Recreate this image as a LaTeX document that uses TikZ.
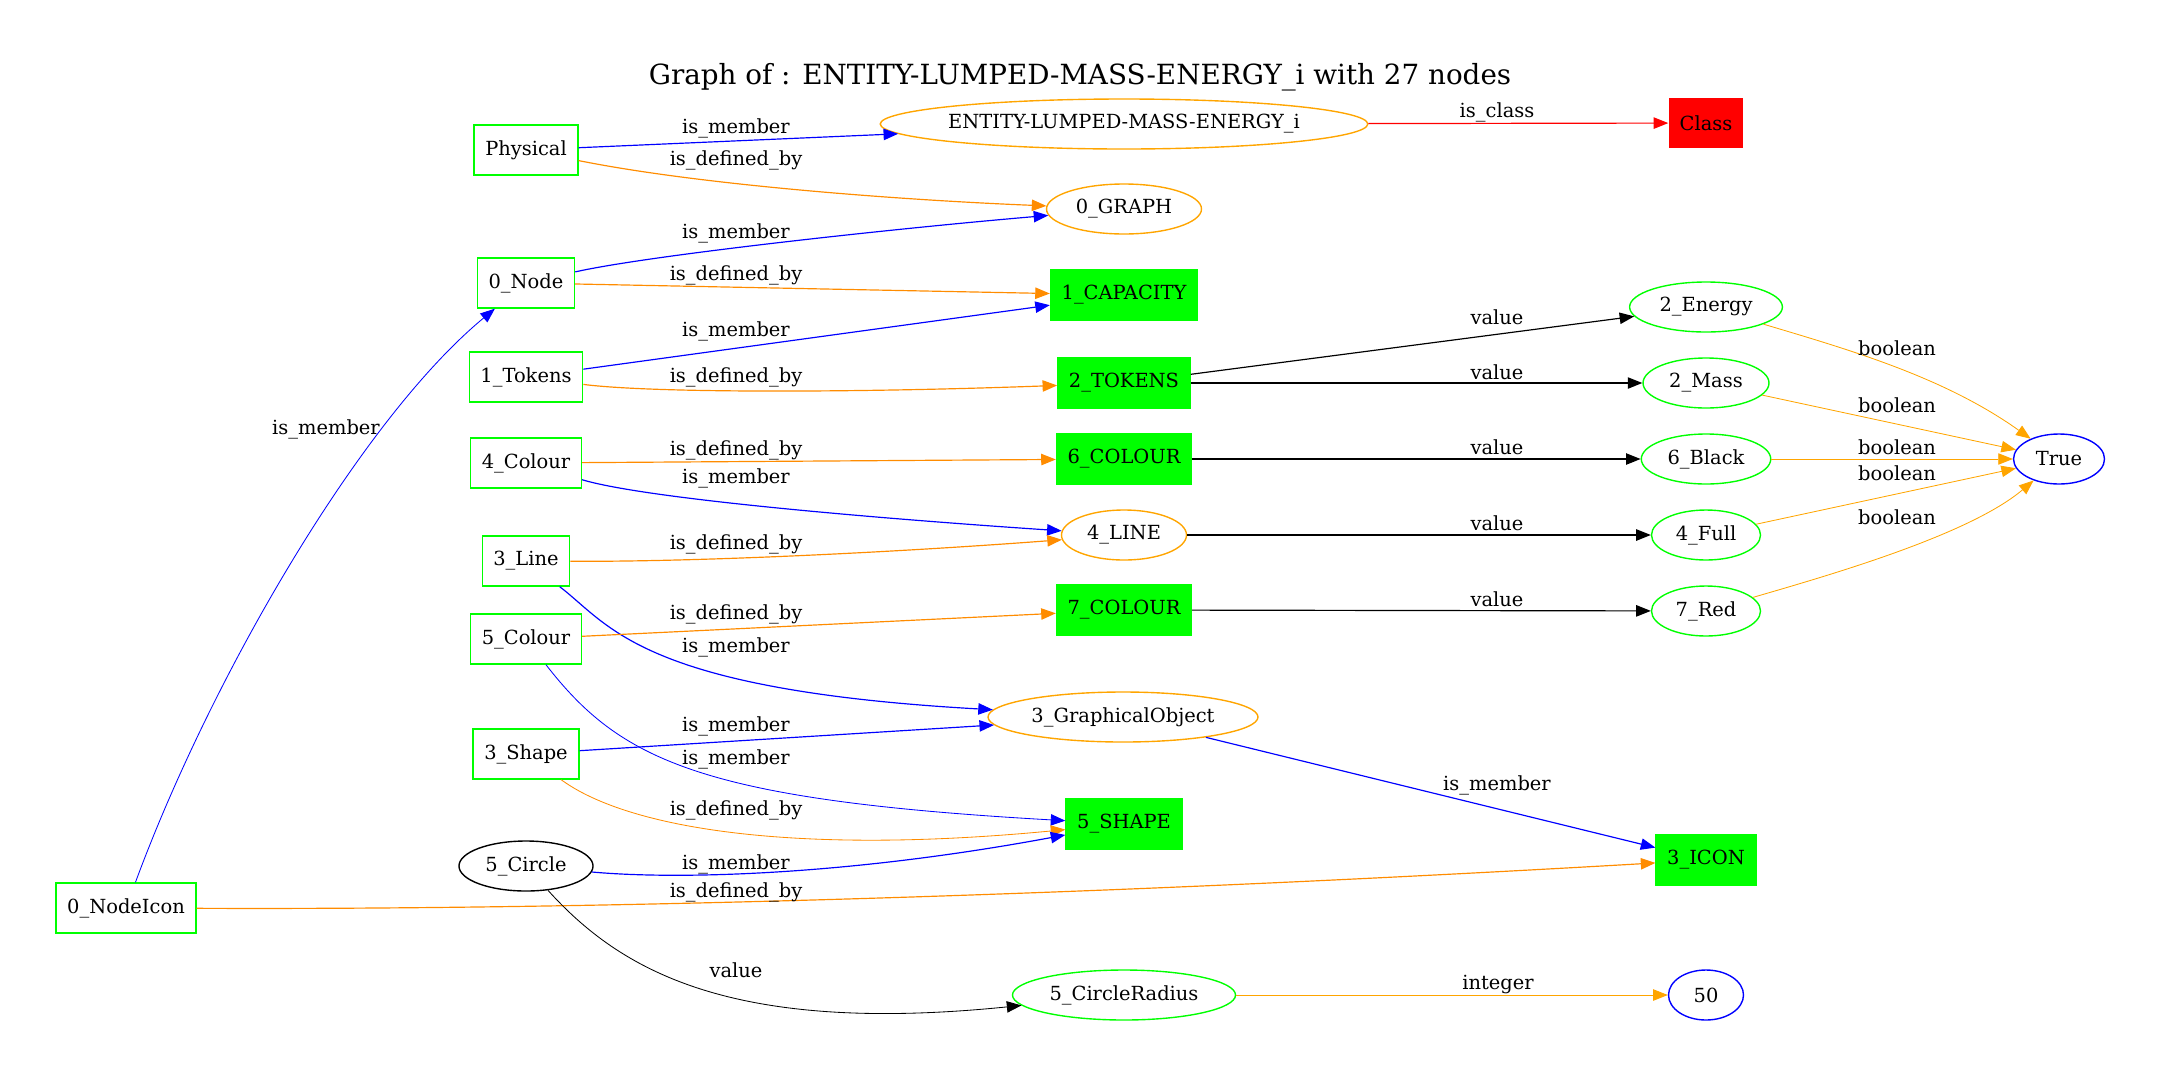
\documentclass[tikz,border=0pt]{standalone}
\usepackage{fontspec}
\setmainfont{DejaVu Serif}
\usepackage{tikz}
\usetikzlibrary{arrows.meta,shapes}

\definecolor{gvgreen}{HTML}{00FF00}
\definecolor{gvorange}{HTML}{FFA500}
\definecolor{gvdarkorange}{HTML}{FF8C00}
\definecolor{gvblue}{HTML}{0000FF}
\definecolor{gvred}{HTML}{FF0000}

\tikzset{
  every node/.style={font=\fontsize{14}{16}\selectfont},
  gbox/.style={rectangle, draw=gvgreen, line width=1pt, inner xsep=8pt, inner ysep=0pt, minimum height=36pt},
  fgbox/.style={gbox, fill=gvgreen},
  clsbox/.style={rectangle, fill=gvred, inner xsep=8pt, inner ysep=0pt, minimum height=36pt},
  oval/.style={ellipse, line width=1pt, inner xsep=-8pt, inner ysep=0pt, minimum height=36pt},
  ooval/.style={oval, draw=gvorange},
  goval/.style={oval, draw=gvgreen},
  boval/.style={oval, draw=gvblue},
  koval/.style={oval, draw=black},
  lbl/.style={inner sep=0pt},
  gvarrow/.style={line width=0.85pt, -{Triangle[length=10.5pt,width=8.2pt]}},
  thinline/.style={line width=0.6pt},
  member/.style={gvarrow, draw=gvblue},
  definedby/.style={gvarrow, draw=gvdarkorange},
  valuearr/.style={gvarrow, draw=black},
  classarr/.style={gvarrow, draw=gvred},
  boolarr/.style={gvarrow, thinline, draw=gvorange},
}

\begin{document}
\begin{tikzpicture}[x=0.72pt, y=-0.72pt]
\useasboundingbox (0,0) rectangle (2160,1076);

% Title
\node[font=\fontsize{20}{24}\selectfont, anchor=base] (title) at (1080,84)
  {Graph of : ENTITY-LUMPED-MASS-ENERGY\_i with 27 nodes};

% Sources
\node[gbox] (nodeicon0) at (126,908) {0\_NodeIcon};
\node[gbox] (phys) at (526,150) {Physical};
\node[gbox] (node0) at (526,283) {0\_Node};
\node[gbox] (tok1) at (526,377) {1\_Tokens};
\node[gbox] (colour4) at (526,463) {4\_Colour};
\node[gbox] (line3) at (526,561) {3\_Line};
\node[gbox] (colour5) at (526,639) {5\_Colour};
\node[gbox] (shape3) at (526,754) {3\_Shape};
\node[koval, minimum width=96.5pt] (circle5) at (526,866) {5\_Circle};

% Middle column
\node[ooval, minimum width=351pt] (entity) at (1124,124) {ENTITY-LUMPED-MASS-ENERGY\_i};
\node[ooval, minimum width=111.6pt] (graph0) at (1124,209) {0\_GRAPH};
\node[fgbox] (cap1) at (1124,295) {1\_CAPACITY};
\node[fgbox] (tokens2) at (1124,383) {2\_TOKENS};
\node[fgbox] (colour6) at (1124,459) {6\_COLOUR};
\node[ooval, minimum width=90pt] (line4) at (1124,535) {4\_LINE};
\node[fgbox] (colour7) at (1124,610) {7\_COLOUR};
\node[ooval, minimum width=194.4pt] (goobj3) at (1123,717) {3\_GraphicalObject};
\node[fgbox] (shape5) at (1124,824) {5\_SHAPE};
\node[goval, minimum width=160.6pt] (radius5) at (1124,995) {5\_CircleRadius};

% Values
\node[clsbox] (cls) at (1706,123) {Class};
\node[goval, minimum width=110pt] (energy2) at (1706,307) {2\_Energy};
\node[goval, minimum width=90.7pt] (mass2) at (1706,383) {2\_Mass};
\node[goval, minimum width=93.2pt] (black6) at (1706,459) {6\_Black};
\node[goval, minimum width=78.5pt] (full4) at (1706,535) {4\_Full};
\node[goval, minimum width=78.5pt] (red7) at (1706,611) {7\_Red};
\node[fgbox] (icon3) at (1706,860) {3\_ICON};
\node[boval, minimum width=54pt] (fifty) at (1706,995) {50};
\node[boval, minimum width=65.5pt] (truenode) at (2059,459) {True};

% Sources -> middle column
\draw[member] (phys) -- (entity) node[lbl] at (736,128) {is\_member};
\draw[definedby] (phys) .. controls (700,185) and (900,200) .. (graph0) node[lbl] at (736,160) {is\_defined\_by};
\draw[member] (node0) .. controls (650,255) and (900,228) .. (graph0) node[lbl] at (736,233) {is\_member};
\draw[definedby] (node0) -- (cap1) node[lbl] at (736,275) {is\_defined\_by};
\draw[member] (tok1) -- (cap1) node[lbl] at (736,331) {is\_member};
\draw[definedby] (tok1) .. controls (650,393) and (850,393) .. (tokens2) node[lbl] at (736,377) {is\_defined\_by};
\draw[member, thinline] (nodeicon0) .. controls (210,680) and (360,420) .. (node0) node[lbl] at (326,429) {is\_member};
\draw[definedby] (colour4) -- (colour6) node[lbl] at (736,450) {is\_defined\_by};
\draw[member] (colour4) .. controls (650,500) and (900,520) .. (line4) node[lbl] at (736,478) {is\_member};
\draw[definedby] (line3) .. controls (700,562) and (900,552) .. (line4) node[lbl] at (736,544) {is\_defined\_by};
\draw[member] (line3) .. controls (610,625) and (640,690) .. (goobj3) node[lbl] at (736,647) {is\_member};
\draw[definedby] (colour5) -- (colour7) node[lbl] at (736,614) {is\_defined\_by};
\draw[member, thinline] (colour5) .. controls (620,760) and (700,800) .. (shape5) node[lbl] at (736,759) {is\_member};
\draw[member] (shape3) -- (goobj3) node[lbl] at (736,726) {is\_member};
\draw[definedby, thinline] (shape3) .. controls (630,830) and (800,855) .. (shape5) node[lbl] at (736,810) {is\_defined\_by};
\draw[member] (circle5) .. controls (680,880) and (850,875) .. (shape5) node[lbl] at (736,864) {is\_member};
\draw[definedby] (nodeicon0) .. controls (600,910) and (1100,895) .. (icon3) node[lbl] at (736,892) {is\_defined\_by};
\draw[valuearr, thinline] (circle5) .. controls (620,970) and (730,1035) .. (radius5) node[lbl] at (736,970) {value};

% Middle column -> values
\draw[classarr] (entity) -- (cls) node[lbl] at (1497,112) {is\_class};
\draw[valuearr] (tokens2) -- (energy2) node[lbl] at (1497,317) {value};
\draw[valuearr] (tokens2) -- (mass2) node[lbl] at (1497,372) {value};
\draw[valuearr] (colour6) -- (black6) node[lbl] at (1497,447) {value};
\draw[valuearr] (line4) -- (full4) node[lbl] at (1497,523) {value};
\draw[valuearr] (colour7) -- (red7) node[lbl] at (1497,599) {value};
\draw[member] (goobj3) -- (icon3) node[lbl] at (1497,785) {is\_member};
\draw[boolarr] (radius5) -- (fifty) node[lbl] at (1498,984) {integer};

% Values -> True
\draw[boolarr] (energy2) .. controls (1850,350) and (1944,377) .. (truenode) node[lbl] at (1897,348) {boolean};
\draw[boolarr] (mass2) -- (truenode) node[lbl] at (1897,405) {boolean};
\draw[boolarr] (black6) -- (truenode) node[lbl] at (1897,447) {boolean};
\draw[boolarr] (full4) -- (truenode) node[lbl] at (1897,473) {boolean};
\draw[boolarr] (red7) .. controls (1830,575) and (1969,535) .. (truenode) node[lbl] at (1897,517) {boolean};
\end{tikzpicture}
\end{document}
